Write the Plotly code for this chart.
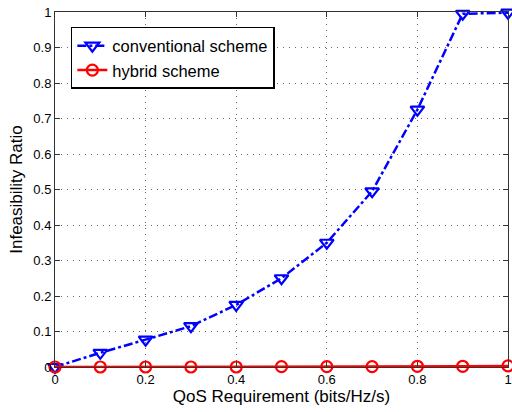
import plotly.graph_objects as go

qos = [0, 0.1, 0.2, 0.3, 0.4, 0.5, 0.6, 0.7, 0.8, 0.9, 1.0]
conventional = [0.0, 0.04, 0.077, 0.115, 0.175, 0.25, 0.35, 0.495, 0.725, 0.995, 0.998]
hybrid = [0.0, 0.0, 0.0, 0.0, 0.0, 0.001, 0.001, 0.001, 0.002, 0.002, 0.003]
xticks = [0, 0.2, 0.4, 0.6, 0.8, 1]
yticks = [0, 0.1, 0.2, 0.3, 0.4, 0.5, 0.6, 0.7, 0.8, 0.9, 1]

fig = go.Figure()
fig.add_trace(go.Scatter(
    x=qos, y=conventional, mode="lines+markers", name="conventional scheme",
    line=dict(color="#0000ff", width=2.5, dash="dashdot"),
    marker=dict(symbol="triangle-down-open", size=12, color="#0000ff", line=dict(width=2.2)),
    cliponaxis=False,
))
fig.add_trace(go.Scatter(
    x=qos, y=hybrid, mode="lines+markers", name="hybrid scheme",
    line=dict(color="#ff0000", width=2.5),
    marker=dict(symbol="circle-open", size=11, color="#ff0000", line=dict(width=2.2)),
    cliponaxis=False,
))

axis_common = dict(
    showline=True, linecolor="#333333", linewidth=1, mirror="ticks",
    ticks="inside", ticklen=5, tickcolor="#333333",
    showgrid=True, gridcolor="#666666", griddash="1px,5px", gridwidth=1,
    zeroline=False, tickfont=dict(size=13, color="black"), automargin=False,
)

fig.update_layout(
    width=512, height=412,
    margin=dict(l=55, r=4, t=12, b=45),
    plot_bgcolor="white", paper_bgcolor="white",
    font=dict(family="Liberation Sans, Arial, sans-serif", size=14, color="black"),
    xaxis=dict(range=[0, 1], tickvals=xticks, ticktext=["0", "0.2", "0.4", "0.6", "0.8", "1"],
               title=dict(text="QoS Requirement (bits/Hz/s)", standoff=0), **axis_common),
    yaxis=dict(range=[0, 1], tickvals=yticks,
               ticktext=["0", "0.1", "0.2", "0.3", "0.4", "0.5", "0.6", "0.7", "0.8", "0.9", "1"],
               title=dict(text="Infeasibility Ratio", standoff=6), **axis_common),
    legend=dict(x=0.035, y=0.958, xanchor="left", yanchor="top",
                bgcolor="white", bordercolor="black", borderwidth=1.5,
                font=dict(size=16.5), tracegroupgap=0),
    showlegend=True,
)

# drop the default body margin so the 512x412 figure fills the window
fig.write_html("out.html", config={"displayModeBar": False},
               post_script="document.body.style.margin='0';")
